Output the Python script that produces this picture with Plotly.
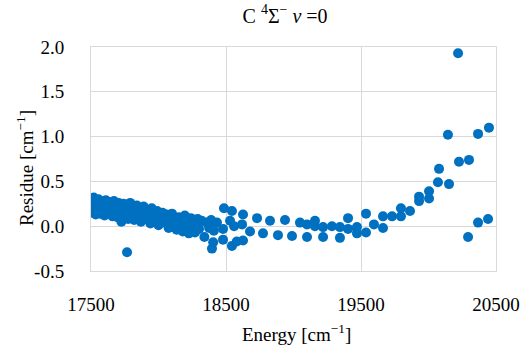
import plotly.graph_objects as go

energy = [
    17505, 17510, 17515, 17520, 17525, 17530, 17535, 17540, 17545, 17550,
    17555, 17560, 17565, 17570, 17575, 17580, 17590, 17595, 17600, 17610,
    17615, 17620, 17630, 17635, 17640, 17650, 17655, 17660, 17670, 17675,
    17680, 17690, 17695, 17700, 17705, 17710, 17720, 17725, 17730, 17740,
    17745, 17750, 17760, 17770, 17775, 17780, 17790, 17800, 17810, 17820,
    17830, 17840, 17850, 17860, 17870, 17880, 17890, 17900, 17910, 17925,
    17940, 17950, 17960, 17975, 17990, 18000, 18010, 18030, 18045, 18060,
    18075, 18090, 18100, 18120, 18135, 18150, 18165, 18180, 18195, 18210,
    18225, 18240, 18255, 18270, 18290, 18300, 18320, 18340, 18360, 18375,
    18390, 18410, 17767,
    18396, 18405, 18478, 18544, 18580, 18626,
    18485, 18544,
    18433, 18478, 18530, 18560, 18619, 18626, 18678, 18730, 18774, 18826,
    18885, 18937, 18989, 19048, 19100, 19100, 19159, 19159, 19219, 19219,
    19285, 19344, 19344, 19404, 19404, 19470, 19470, 19537, 19537, 19596,
    19663, 19663, 19730, 19796, 19796, 19863, 19930, 19930, 20004, 20004,
    20070, 20078, 20144, 20152, 20219, 20226, 20293, 20300, 20367, 20367,
    20441, 20448,
]
residue = [
    0.28, 0.20, 0.15, 0.32, 0.24, 0.18, 0.13, 0.27, 0.22, 0.16,
    0.30, 0.25, 0.19, 0.14, 0.28, 0.21, 0.17, 0.26, 0.12, 0.29,
    0.23, 0.18, 0.14, 0.27, 0.21, 0.16, 0.25, 0.11, 0.28, 0.20,
    0.15, 0.24, 0.10, 0.19, 0.26, 0.13, 0.22, 0.05, 0.17, 0.25,
    0.09, 0.20, 0.14, 0.23, 0.08, 0.18, 0.26, 0.12, 0.21, 0.07,
    0.16, 0.23, 0.10, 0.19, 0.05, 0.15, 0.22, 0.08, 0.18, 0.12,
    0.03, 0.20, 0.14, 0.07, 0.17, 0.01, 0.11, 0.15, 0.04, 0.13,
    -0.02, 0.08, 0.14, 0.03, -0.04, 0.10, 0.04, -0.06, 0.12, 0.02,
    -0.08, 0.09, 0.00, -0.07, 0.08, -0.03, 0.06, -0.12, 0.04, -0.02,
    0.07, -0.05, -0.29,
    -0.25, -0.18, -0.15, -0.22, -0.17, -0.16,
    0.20, 0.17,
    0.04, -0.03, 0.06, 0.00, 0.02, 0.13, -0.06, 0.09, -0.08, 0.06,
    -0.10, 0.07, -0.11, 0.04, 0.02, -0.12, 0.06, 0.00, -0.01, -0.12,
    0.00, -0.01, -0.13, 0.09, -0.03, -0.01, -0.08, 0.14, -0.07, 0.02,
    0.11, -0.02, 0.11, 0.20, 0.11, 0.17, 0.33, 0.28, 0.39, 0.31,
    0.49, 0.64, 1.02, 0.47, 1.93, 0.72, -0.12, 0.74, 1.03, 0.04,
    0.08, 1.10,
]

x_ticks = [17500, 18500, 19500, 20500]
y_ticks = [-0.5, 0.0, 0.5, 1.0, 1.5, 2.0]

font_family = "Liberation Serif"
grid = "#d9d9d9"

fig = go.Figure(go.Scatter(
    x=energy, y=residue, mode="markers",
    marker=dict(size=10, color="#0070c0"),
))

fig.update_layout(
    width=526, height=346,
    margin=dict(l=91, r=30, t=47, b=75),
    paper_bgcolor="white", plot_bgcolor="white",
    showlegend=False,
    font=dict(family=font_family, size=19, color="#000000"),
    title=dict(
        text="C <sup>4</sup>Σ<sup>−</sup> <i>v</i> =0",
        x=0.542, xanchor="center", y=0.955, yanchor="middle",
        font=dict(family=font_family, size=20, color="#000000"),
    ),
    xaxis=dict(
        range=[17500, 20500], tickvals=x_ticks,
        ticktext=[str(v) for v in x_ticks],
        showgrid=True, gridcolor=grid, gridwidth=1,
        showline=True, linecolor=grid, mirror=True, zeroline=False,
        ticks="", ticklabelstandoff=16, automargin=False,
    ),
    yaxis=dict(
        range=[-0.5, 2.0], tickvals=y_ticks,
        ticktext=[f"{v:.1f}" for v in y_ticks],
        showgrid=True, gridcolor=grid, gridwidth=1,
        showline=True, linecolor=grid, mirror=True, zeroline=False,
        ticks="", ticklabelstandoff=22, automargin=False,
    ),
    annotations=[
        dict(
            text="Residue [cm<sup>−1</sup>]", textangle=-90,
            xref="paper", yref="paper",
            x=(25 - 91) / 405, y=(271 - 168) / 224,
            xanchor="center", yanchor="middle", showarrow=False,
            font=dict(family=font_family, size=19, color="#000000"),
        ),
        dict(
            text="Energy [cm<sup>−1</sup>]",
            xref="paper", yref="paper",
            x=(296 - 91) / 405, y=(271 - 333) / 224,
            xanchor="center", yanchor="middle", showarrow=False,
            font=dict(family=font_family, size=19, color="#000000"),
        ),
    ],
)

fig.write_html("out.html")
